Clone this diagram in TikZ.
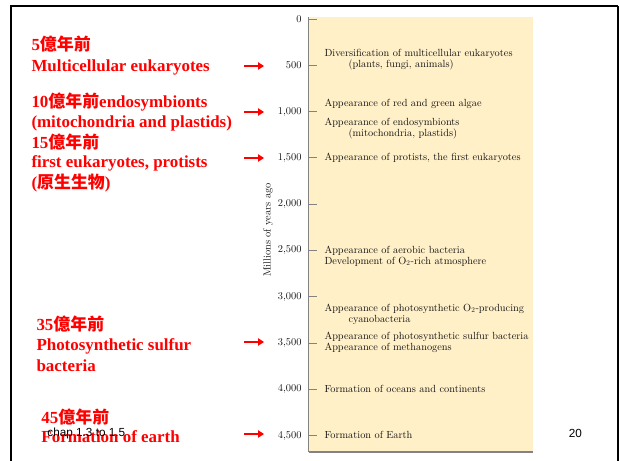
\documentclass[tikz,border=0pt]{standalone}
\usepackage{fontspec}
\usetikzlibrary{arrows.meta}
\newfontfamily\redfont{Liberation Serif}
\newfontfamily\cjkfont{Noto Sans CJK TC}
\newfontfamily\slidefont{Liberation Sans}
\newfontfamily\chartfont{lmroman10-regular}[Extension=.otf]
\definecolor{boxyellow}{RGB}{255,240,200}
\definecolor{axisgray}{RGB}{130,130,130}
\definecolor{chartink}{RGB}{20,20,20}
\newcommand{\yi}[1]{{\cjkfont\bfseries #1}}

\tikzset{every picture/.style={line width=0.75pt}}
\tikzset{
  redlabel/.style={anchor=base west,inner sep=0pt,text=red,font=\redfont\bfseries\fontsize{12.7}{15}\selectfont},
  event/.style={anchor=base west,inner sep=0pt,text=chartink,font=\chartfont\fontsize{7.75}{9}\selectfont},
  ticklabel/.style={anchor=east,inner sep=0pt,text=chartink,font=\chartfont\fontsize{7.8}{9}\selectfont},
  redarrow/.style={draw=red,line width=1.6pt,-{Triangle[length=4.5pt,width=5.5pt]}},
  slidetext/.style={inner sep=0pt,text=black,font=\slidefont\fontsize{8.8}{10}\selectfont},
}

\begin{document}
\begin{tikzpicture}[x=0.75pt,y=0.75pt,yscale=-1,xscale=1]
			\useasboundingbox (0,0) rectangle (619,461);
			%Slide frame
			\draw [line width=1.8pt]  (11,461) -- (11,6) -- (618,6) ;
			\draw [line width=1.2pt]  (618,6) -- (618,461) ;

			%Shape: Rectangle (time scale)
			\fill [boxyellow]  (308.5,17) rectangle (533,452) ;
			\draw [axisgray,line width=0.6pt]  (308.5,17) -- (308.5,452) ;
			\draw [axisgray,line width=1pt]  (308.5,452) -- (533,452) ;

			%Ticks and tick labels
			\foreach \v/\lab in {0/0,500/500,1000/{1,000},1500/{1,500},2000/{2,000},2500/{2,500},3000/{3,000},3500/{3,500},4000/{4,000},4500/{4,500}}{
				\node [ticklabel] (t\v) at (302,{19+0.09256*\v}) {\lab};
				\draw [axisgray,line width=0.6pt]  (308.5,{19+0.09256*\v}) -- (317,{19+0.09256*\v}) ;
			}

			% Text Node
			\node [rotate=90,inner sep=0pt,text=chartink,font=\chartfont\fontsize{7.8}{9}\selectfont] (axis) at (268,230) {Millions of years ago};

			% Text Node
			\node [event] (d1a) at (324,56) {Diversification of multicellular eukaryotes};
			\node [event] (d1b) at (348,67) {(plants, fungi, animals)};
			\node [event] (d2) at (324,106) {Appearance of red and green algae};
			\node [event] (d3a) at (324,125) {Appearance of endosymbionts};
			\node [event] (d3b) at (348,136) {(mitochondria, plastids)};
			\node [event] (d4) at (324,160) {Appearance of protists, the first eukaryotes};
			\node [event] (d5a) at (324,253) {Appearance of aerobic bacteria};
			\node [event] (d5b) at (324,264) {Development of O\textsubscript{2}-rich atmosphere};
			\node [event] (d6a) at (324,311) {Appearance of photosynthetic O\textsubscript{2}-producing};
			\node [event] (d6b) at (348,322) {cyanobacteria};
			\node [event] (d7a) at (324,339) {Appearance of photosynthetic sulfur bacteria};
			\node [event] (d7b) at (324,350) {Appearance of methanogens};
			\node [event] (d8) at (324,392) {Formation of oceans and continents};
			\node [event] (d9) at (324,438) {Formation of Earth};

			% Text Node
			\node [redlabel] (r5a) at (31,50.5) {5\yi{億年前}};
			\node [redlabel] (r5b) at (31,71.5) {Multicellular eukaryotes};
			\node [redlabel] (r10a) at (31,107.5) {10\yi{億年前}endosymbionts};
			\node [redlabel] (r10b) at (31,127.5) {(mitochondria and plastids)};
			\node [redlabel] (r15a) at (31,148.5) {15\yi{億年前}};
			\node [redlabel] (r15b) at (31,167.5) {first eukaryotes, protists};
			\node [redlabel] (r15c) at (31,188.5) {(\yi{原生生物})};
			\node [redlabel] (r35a) at (36,330.5) {35\yi{億年前}};
			\node [redlabel] (r35b) at (36,350.5) {Photosynthetic sulfur};
			\node [redlabel] (r35c) at (36,371.5) {bacteria};
			\node [redlabel] (r45a) at (41,423.5) {45\yi{億年前}};
			\node [redlabel] (r45b) at (41,442.5) {Formation of earth};

			%Straight Lines (red arrows)
			\foreach \n/\y in {500/66,1000/112,1500/158,3500/342,4500/434}{
				\coordinate (a\n s) at (244,\y);
				\coordinate (a\n e) at (264,\y);
				\draw [redarrow]  (a\n s) -- (a\n e) ;
			}

			% Text Node
			\node [slidetext,anchor=west] (chap) at (47,433) {chap 1.3 to 1.5};
			\node [slidetext] (page) at (575.5,433) {20};

		\end{tikzpicture}
\end{document}
